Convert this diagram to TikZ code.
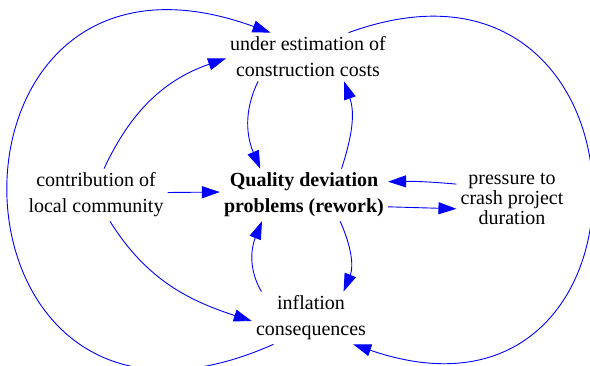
\documentclass[tikz,border=0pt]{standalone}
\usepackage{fontspec}
\setmainfont{Liberation Serif}
\newfontfamily\varfont{Liberation Serif}
\usepackage{tikz}
\usetikzlibrary{arrows.meta}
\definecolor{colorlink}{RGB}{0,0,255}
\definecolor{colortext}{RGB}{0,0,0}

\begin{document}
\begin{tikzpicture}[
    x=1pt, y=1pt,
    var/.style={text=colortext,align=center,inner sep=4pt,font={\varfont\fontsize{20}{26}\selectfont}},
    tight/.style={font={\varfont\fontsize{20}{20}\selectfont}},
    core/.style={font={\varfont\fontsize{20}{26}\selectfont\bfseries}},
    link/.style={draw=colorlink,line width=0.9pt,-{Triangle[length=18pt,width=12pt]}},
]
    \useasboundingbox (0,0) rectangle (590,366);

    \node[var] (under) at (308,309) {under estimation of\\construction costs};
    \node[var] (contrib) at (96,171) {contribution of\\local community};
    \node[var,core] (quality) at (304,171) {Quality deviation\\problems (rework)};
    \node[var,tight] (pressure) at (512,167) {pressure to\\crash project\\duration};
    \node[var] (inflation) at (311,48) {inflation\\consequences};

    \draw[link] (under.206) to[out=244,in=113] (quality.149);
    \draw[link] (quality.35) to[out=72,in=289] (under.326);
    \draw[link] (contrib.73) to[out=65,in=199] (under.181);
    \draw[link] (contrib.2) -- (quality.178);
    \draw[link] (contrib.298) to[out=302,in=162] (inflation.183);
    \draw[link] (quality.352) -- (pressure.190);
    \draw[link] (pressure.165) to[bend right=3] (quality.9);
    \draw[link] (quality.324) to[out=294,in=68] (inflation.39);
    \draw[link] (inflation.152) to[out=120,in=248] (quality.212);
    \draw[link] (inflation.215) to[out=204,in=160,looseness=3.1] (under.147);
    \draw[link] (under.31) to[out=20,in=341,looseness=2.78] (inflation.328);

\end{tikzpicture}
\end{document}
